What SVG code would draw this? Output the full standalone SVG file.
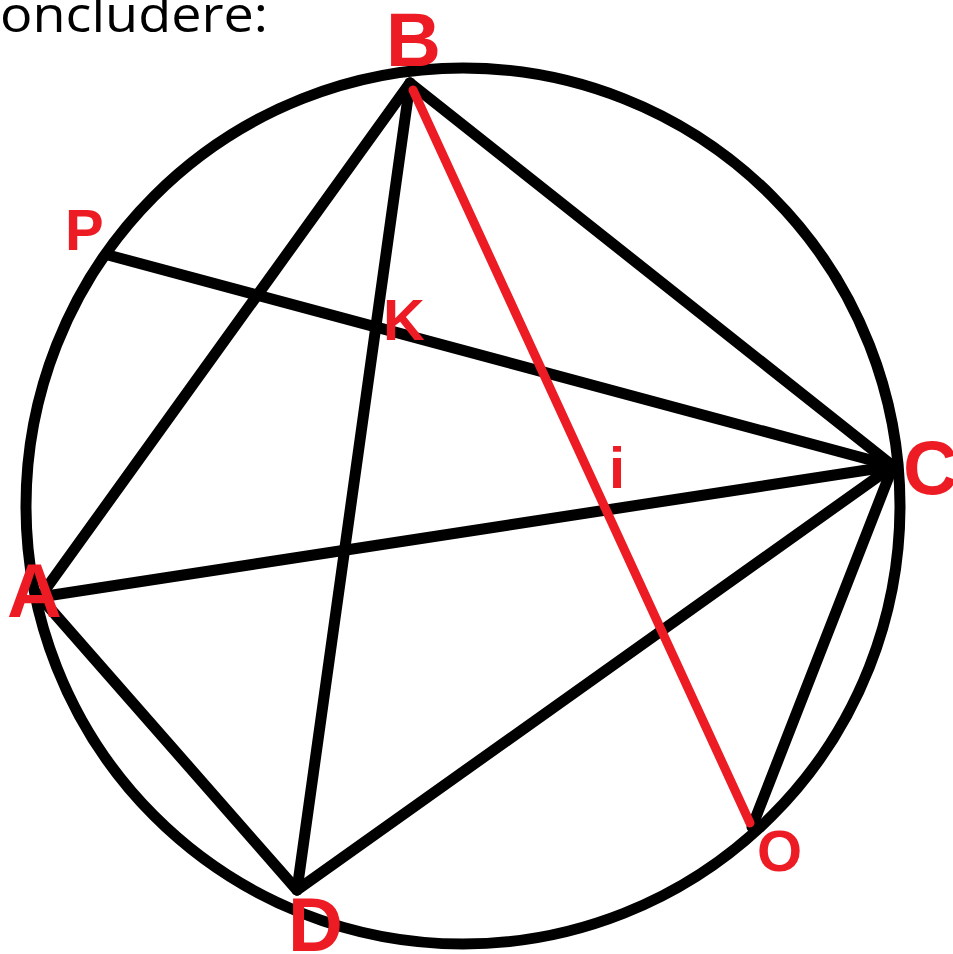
<svg xmlns="http://www.w3.org/2000/svg" width="953" height="954" viewBox="0 0 953 954">
<style>
.ln{stroke:#000;stroke-width:11;stroke-linecap:round;fill:none}
.red{stroke:#ED1C24;stroke-width:9;stroke-linecap:round;fill:none}
.lbl{font-family:"Liberation Sans",Arial,sans-serif;font-weight:bold;fill:#ED1C24}
.big{font-size:76px}
.sm{font-size:58px}
</style>
<rect width="953" height="954" fill="#fff"/>
<text x="0" y="32" font-family="'Open Sans','Liberation Sans',sans-serif" font-size="50" fill="#000" textLength="268" lengthAdjust="spacingAndGlyphs">oncludere:</text>
<g id="circle"><ellipse cx="463" cy="506" rx="437" ry="438" class="ln"/></g>
<g id="connectors">
<line class="ln" x1="40" y1="597" x2="410" y2="83"/>
<line class="ln" x1="410" y1="83" x2="297" y2="890"/>
<line class="ln" x1="410" y1="83" x2="893" y2="466"/>
<line class="ln" x1="40" y1="597" x2="893" y2="466"/>
<line class="ln" x1="40" y1="597" x2="297" y2="890"/>
<line class="ln" x1="297" y1="890" x2="893" y2="466"/>
<line class="ln" x1="893" y1="466" x2="752" y2="827"/>
<line class="ln" x1="108" y1="255" x2="893" y2="466"/>
<line class="red" x1="413" y1="90" x2="750" y2="823"/>
</g>
<g id="B"><text class="lbl big" x="386" y="66">B</text></g>
<g id="C"><text class="lbl big" x="903" y="494">C</text></g>
<g id="A"><text class="lbl big" x="7" y="617">A</text></g>
<g id="D"><text class="lbl big" x="288" y="951">D</text></g>
<g id="P"><text class="lbl sm" x="65" y="250">P</text></g>
<g id="K"><text class="lbl sm" x="383" y="340">K</text></g>
<g id="i"><text class="lbl sm" x="609" y="488">i</text></g>
<g id="O"><text class="lbl sm" x="757" y="871">O</text></g>
</svg>
